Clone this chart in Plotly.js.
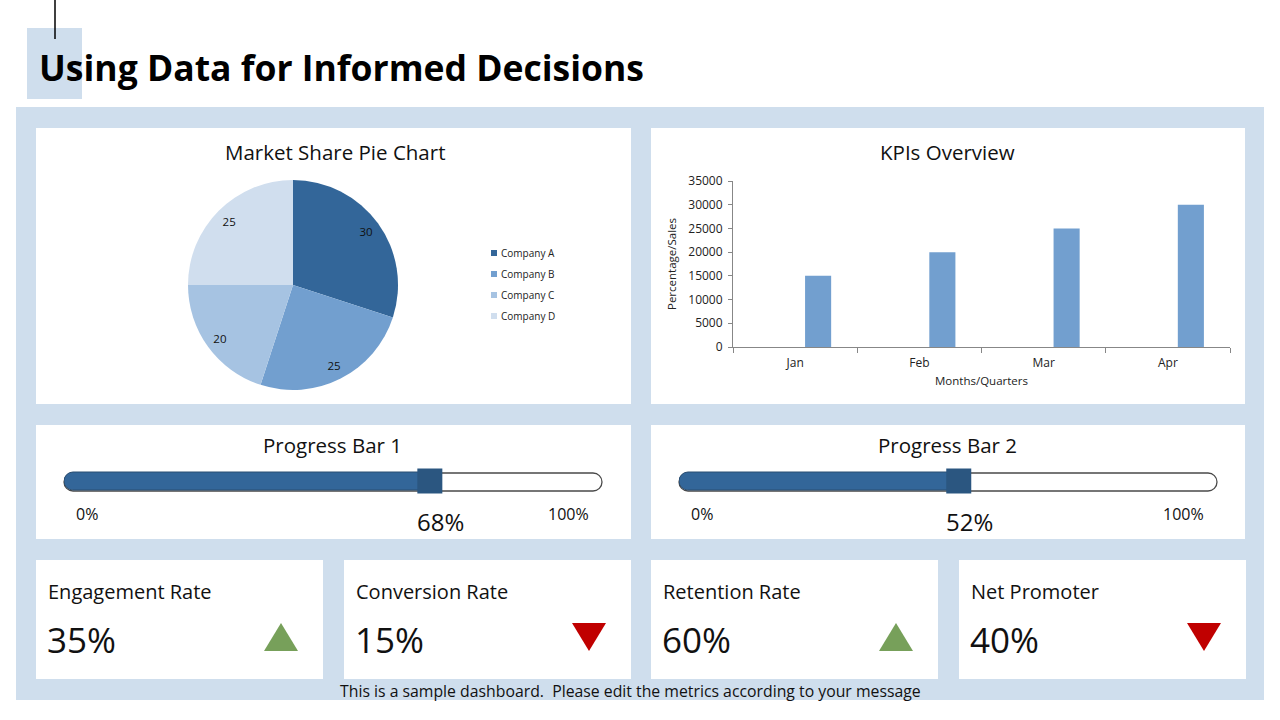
<!DOCTYPE html>
<html>
<head>
<meta charset="utf-8">
<script src="https://cdn.plot.ly/plotly-3.0.1.min.js"></script>
<style>
  html, body { margin: 0; padding: 0; background: #ffffff; }
  #dash { width: 1280px; height: 720px; }
</style>
</head>
<body>
<div id="dash"></div>
<script>
// ---- data ----
const companies = ['Company A', 'Company B', 'Company C', 'Company D'];
const marketShare = [30, 25, 20, 25];
const shareColors = ['#336699', '#729FCF', '#A6C3E2', '#D0DEEE'];

const months = ['Jan', 'Feb', 'Mar', 'Apr'];
const kpiSales = [15000, 20000, 25000, 30000];

const progressNames = ['Progress Bar 1', 'Progress Bar 2'];
const progressValues = [68, 52];

const metricNames = ['Engagement Rate', 'Conversion Rate', 'Retention Rate', 'Net Promoter'];
const metricValues = [35, 15, 60, 40];
const metricTrend = ['up', 'down', 'up', 'down'];

// ---- page geometry helpers (pixels -> paper) ----
const W = 1280, H = 720;
const fx = p => p / W;
const fy = p => 1 - p / H;
const FONT = '"Open Sans", Lato, sans-serif';
const PANEL = '#CFDEED';

function rect(x0, y0, x1, y1, color) {
  return { type: 'rect', xref: 'paper', yref: 'paper', layer: 'below',
    x0: fx(x0), x1: fx(x1), y0: fy(y1), y1: fy(y0),
    fillcolor: color, line: { width: 0 } };
}
function pill(x0, y0, x1, y1) {
  const r = (y1 - y0) / 2, k = 0.5523 * r, ym = (y0 + y1) / 2;
  const P = (x, y) => fx(x).toFixed(5) + ',' + fy(y).toFixed(5);
  const d = 'M' + P(x0 + r, y0) + ' L' + P(x1 - r, y0) +
    ' C' + P(x1 - r + k, y0) + ' ' + P(x1, ym - k) + ' ' + P(x1, ym) +
    ' C' + P(x1, ym + k) + ' ' + P(x1 - r + k, y1) + ' ' + P(x1 - r, y1) +
    ' L' + P(x0 + r, y1) +
    ' C' + P(x0 + r - k, y1) + ' ' + P(x0, ym + k) + ' ' + P(x0, ym) +
    ' C' + P(x0, ym - k) + ' ' + P(x0 + r - k, y0) + ' ' + P(x0 + r, y0) + ' Z';
  return { type: 'path', xref: 'paper', yref: 'paper', layer: 'below', path: d,
    fillcolor: '#ffffff', line: { color: '#4a4a4a', width: 1.3 } };
}
function tri(cx, yTop, yBot, half, up, color) {
  const P = (x, y) => fx(x).toFixed(5) + ',' + fy(y).toFixed(5);
  const d = up
    ? 'M' + P(cx - half, yBot) + ' L' + P(cx + half, yBot) + ' L' + P(cx, yTop) + ' Z'
    : 'M' + P(cx - half, yTop) + ' L' + P(cx + half, yTop) + ' L' + P(cx, yBot) + ' Z';
  return { type: 'path', xref: 'paper', yref: 'paper', layer: 'above', path: d,
    fillcolor: color, line: { width: 0 } };
}
function label(text, x, y, size, opts) {
  return Object.assign({ text: text, xref: 'paper', yref: 'paper', x: fx(x), y: fy(y),
    xanchor: 'center', yanchor: 'middle', showarrow: false,
    font: { family: FONT, size: size, color: '#111111' } }, opts || {});
}

const shapes = [];
const annotations = [];

// page header
shapes.push(rect(27, 28, 82, 99, PANEL));
shapes.push({ type: 'line', xref: 'paper', yref: 'paper', x0: fx(55), x1: fx(55), y0: fy(0), y1: fy(39),
  line: { color: '#000000', width: 1.5 } });
annotations.push(label('<b>Using Data for Informed Decisions</b>', 37, 67, 35.5,
  { xanchor: 'left', font: { family: FONT, size: 35.5, color: '#000000' } }));

// dashboard panel and white cards
shapes.push(rect(16, 107, 1264, 700, PANEL));
shapes.push(rect(36, 128, 631, 404, '#ffffff'));
shapes.push(rect(651, 128, 1245, 404, '#ffffff'));
shapes.push(rect(36, 425, 631, 539, '#ffffff'));
shapes.push(rect(651, 425, 1245, 539, '#ffffff'));
const cardLeft = [36, 344, 651, 959];
cardLeft.forEach(l => shapes.push(rect(l, 560, l + 287, 679, '#ffffff')));

// card titles
annotations.push(label('Market Share Pie Chart', 335, 152, 20.5));
annotations.push(label('KPIs Overview', 947, 152, 20.5));

// pie legend
companies.forEach((c, i) => {
  const yc = 253 + i * 21;
  shapes.push({ type: 'rect', xref: 'paper', yref: 'paper', layer: 'above',
    x0: fx(491), x1: fx(497), y0: fy(yc + 3), y1: fy(yc - 3),
    fillcolor: shareColors[i], line: { width: 0 } });
  annotations.push(label(c, 499, yc, 10, { xanchor: 'left',
    font: { family: FONT, size: 10, color: '#222222' } }));
});

const data = [];
const pieDomain = { x: [fx(188), fx(398)], y: [fy(390), fy(180)] };

// market share pie (solid slices)
data.push({
  type: 'pie', labels: companies, values: marketShare, sort: false,
  direction: 'clockwise', rotation: 0,
  marker: { colors: shareColors, line: { width: 0 } },
  textinfo: 'none', domain: pieDomain,
  hoverinfo: 'label+value', showlegend: false
});
// value labels, set in the outer ring of each slice
data.push({
  type: 'pie', labels: companies, values: marketShare, sort: false,
  direction: 'clockwise', rotation: 0, hole: 0.72,
  marker: { colors: companies.map(() => 'rgba(0,0,0,0)'), line: { width: 0 } },
  textinfo: 'value', textposition: 'inside', insidetextorientation: 'horizontal',
  textfont: { family: FONT, size: 11.5, color: '#111111' },
  domain: pieDomain, hoverinfo: 'skip', showlegend: false
});

// KPI column chart
data.push({
  type: 'bar', x: months, y: kpiSales, xaxis: 'x3', yaxis: 'y3',
  width: 0.21, offset: 0.08,
  marker: { color: '#729FCF', line: { width: 0 } },
  showlegend: false, hoverinfo: 'x+y'
});

// progress bars
const progLeft = [64, 679];
const progLen = 538;
progressValues.forEach((v, i) => {
  const xa = 'x' + (i === 0 ? '4' : '5');
  const ya = 'y' + (i === 0 ? '4' : '5');
  const l = progLeft[i];
  shapes.push(pill(l, 473, l + progLen, 491));
  data.push({
    type: 'bar', orientation: 'h', y: [0], base: [v], x: [-v], width: 0.75,
    xaxis: xa, yaxis: ya,
    marker: { color: '#336699', cornerradius: 9, line: { color: '#2A4E73', width: 1 } },
    showlegend: false, hoverinfo: 'skip'
  });
  data.push({
    type: 'scatter', mode: 'markers', x: [v], y: [0], xaxis: xa, yaxis: ya,
    marker: { symbol: 'square', size: 25, color: '#2B5680', line: { width: 0 } },
    cliponaxis: false, showlegend: false, hoverinfo: 'skip'
  });
  const cx = i === 0 ? 332 : 947;
  annotations.push(label(progressNames[i], cx, 445, 20.5));
  annotations.push(label('0%', l + 10, 514, 16, { xanchor: 'left' }));
  annotations.push(label('100%', l + progLen - 11, 514, 16, { xanchor: 'right' }));
  annotations.push({ text: v + '%', xref: xa, yref: 'paper', x: v, y: fy(521),
    xshift: 11, xanchor: 'center', yanchor: 'middle', showarrow: false,
    font: { family: FONT, size: 24, color: '#111111' } });
});

// metric cards
metricNames.forEach((n, i) => {
  const l = cardLeft[i];
  annotations.push(label(n, l + 10, 591, 20, { xanchor: 'left' }));
  annotations.push(label(metricValues[i] + '%', l + 9, 639, 35, { xanchor: 'left' }));
  const up = metricTrend[i] === 'up';
  shapes.push(tri(l + 245, 623, 651, 17, up, up ? '#77A05A' : '#C00000'));
});

// footer note
annotations.push(label('This is a sample dashboard.\u00a0 Please edit the metrics according to your message',
  630, 691, 15.8));

const progAxis = (l) => ({
  domain: [fx(l), fx(l + progLen)], range: [0, 100], visible: false, fixedrange: true
});
const progY = { domain: [fy(493), fy(469)], range: [-0.5, 0.5], visible: false, fixedrange: true };

const layout = {
  width: W, height: H,
  margin: { l: 0, r: 0, t: 0, b: 0 },
  paper_bgcolor: '#ffffff', plot_bgcolor: 'rgba(0,0,0,0)',
  font: { family: FONT, color: '#222222' },
  showlegend: false, barmode: 'overlay',
  xaxis3: {
    domain: [fx(733), fx(1230)], anchor: 'y3', type: 'category',
    showline: true, linecolor: '#878787', linewidth: 1,
    ticks: 'outside', tickson: 'boundaries', ticklen: 5, tickcolor: '#878787',
    ticklabelstandoff: 5,
    showgrid: false, zeroline: false,
    tickfont: { family: FONT, size: 12, color: '#222222' },
    title: { text: 'Months/Quarters', font: { family: FONT, size: 11.5, color: '#222222' }, standoff: 6 }
  },
  yaxis3: {
    domain: [fy(347), fy(181)], anchor: 'x3', range: [0, 35000], dtick: 5000, tickformat: 'd',
    showline: true, linecolor: '#878787', linewidth: 1,
    ticks: 'outside', ticklen: 4, tickcolor: '#878787',
    ticklabelstandoff: 3,
    showgrid: false, zeroline: false,
    tickfont: { family: FONT, size: 12, color: '#222222' },
    title: { text: 'Percentage/Sales', font: { family: FONT, size: 11.5, color: '#222222' }, standoff: 9 }
  },
  xaxis4: Object.assign(progAxis(progLeft[0]), { anchor: 'y4' }),
  yaxis4: Object.assign({}, progY, { anchor: 'x4' }),
  xaxis5: Object.assign(progAxis(progLeft[1]), { anchor: 'y5' }),
  yaxis5: Object.assign({}, progY, { anchor: 'x5' }),
  shapes: shapes,
  annotations: annotations
};

Plotly.newPlot('dash', data, layout, { displayModeBar: false, staticPlot: true });
</script>
</body>
</html>
